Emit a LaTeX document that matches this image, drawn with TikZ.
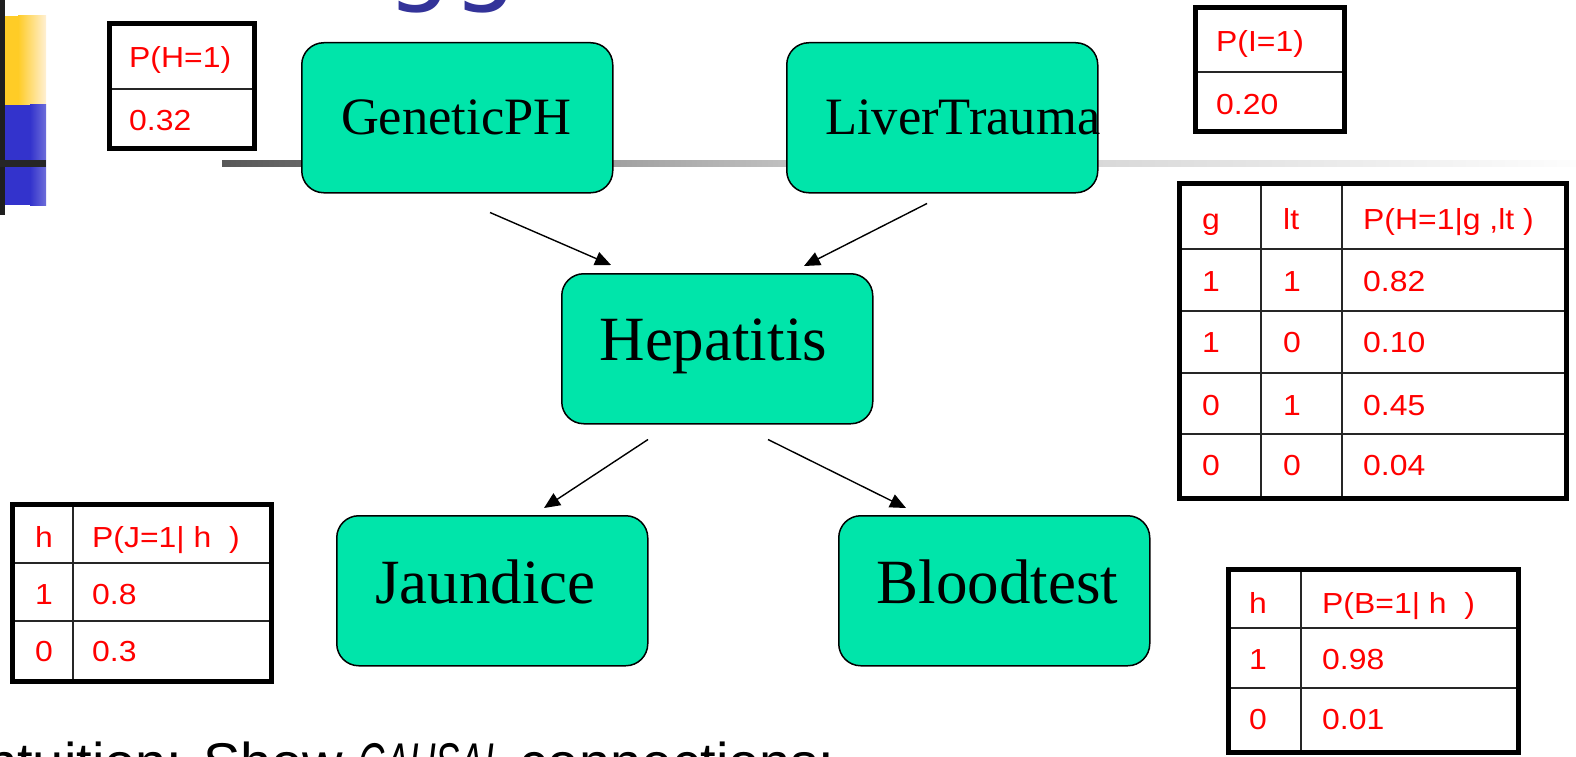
\documentclass[tikz,border=0pt]{standalone}
\usepackage{fontspec}
\setmainfont{Liberation Serif}
\newfontfamily\tabfont[FakeStretch=1.1]{Liberation Sans}
\newfontfamily\bodyfont{Liberation Sans}
\newfontfamily\titlefont{DejaVu Sans}
\usetikzlibrary{arrows.meta,calc}
\definecolor{mint}{RGB}{0,229,170}
\definecolor{titleblue}{RGB}{51,51,153}
\definecolor{barblue}{RGB}{51,51,204}
\definecolor{barblue2}{RGB}{110,110,218}
\definecolor{baryellow}{RGB}{255,204,38}
\definecolor{baryellow2}{RGB}{255,240,212}
\definecolor{tabred}{RGB}{255,0,0}
\definecolor{lineA}{RGB}{88,88,88}
\definecolor{lineB}{RGB}{192,192,192}
\definecolor{lineC}{RGB}{253,253,253}
\tikzset{
  netnode/.style={draw=black, line width=1.5pt, fill=mint, rounded corners=22pt,
    minimum width=311pt, minimum height=150pt, inner sep=0pt, anchor=north west},
  toplabel/.style={font=\fontsize{52.5}{60}\selectfont, text height=36pt, text depth=2pt},
  botlabel/.style={font=\fontsize{63}{72}\selectfont, text height=43pt, text depth=17pt},
  cpt/.style={font=\tabfont\fontsize{29}{34}\selectfont, text=tabred, anchor=base west, inner sep=0pt},
  tabframe/.style={draw=black, line width=5pt},
  tabrule/.style={draw=black!85, line width=2.2pt},
  causal/.style={draw=black, line width=1.4pt, -{Triangle[length=16pt,width=14pt]}},
}
\begin{document}
\begin{tikzpicture}[x=1pt,y=-1pt]
\useasboundingbox (0,0) rectangle (1576,757);
\clip (0,0) rectangle (1576,757);
\fill[white] (0,0) rectangle (1576,757);

% title remnant
\node[anchor=base west, inner sep=0pt, font=\titlefont\fontsize{104}{110}\selectfont, text=titleblue] (ttl) at (386,-8) {gg};

% gray rule
\shade[left color=lineA, right color=lineB] (222,160) rectangle (786,166);
\shade[left color=lineB, right color=lineC] (785,160) rectangle (1576,166);

% left decoration
\fill[baryellow] (5,16) rectangle (19,105);
\shade[left color=baryellow, right color=baryellow2] (18,16) rectangle (46,105);
\fill[barblue] (5,105) rectangle (31,205);
\shade[left color=barblue, right color=barblue2] (30,105) rectangle (46,205);
\fill[black!88] (0,0) rectangle (5,215);
\fill[black!85] (0,160) rectangle (46,167);

% network nodes
\node[netnode] (g) at (301,42) {};
\node[toplabel] (gt) at ($(g.center)+(-1,0)$) {GeneticPH};
\node[netnode] (l) at (786,42) {};
\node[toplabel] (lt) at (l.center) {\makebox[0pt][c]{\hspace{41pt}LiverTrauma}};
\node[netnode] (h) at (561,273) {};
\node[botlabel] (ht) at ($(h.center)+(-4,-1)$) {Hepatitis};
\node[netnode] (j) at (336,515) {};
\node[botlabel] (jt) at ($(j.center)+(-7,0)$) {Jaundice};
\node[netnode] (b) at (838,515) {};
\node[botlabel] (bt) at ($(b.center)+(3,0)$) {Bloodtest};

% connectors
\coordinate (gA) at ($(g.south west)+(189,19)$);
\coordinate (hA) at ($(h.north west)+(50,-8)$);
\coordinate (lA) at ($(l.south west)+(141,10)$);
\coordinate (hB) at ($(h.north west)+(243,-7)$);
\coordinate (hC) at ($(h.south west)+(87,15)$);
\coordinate (jA) at ($(j.north west)+(208,-7)$);
\coordinate (hD) at ($(h.south west)+(207,15)$);
\coordinate (bA) at ($(b.north west)+(68,-7)$);
\draw[causal] (gA) -- (hA);
\draw[causal] (lA) -- (hB);
\draw[causal] (hC) -- (jA);
\draw[causal] (hD) -- (bA);

% P(H=1) table
\draw[tabrule] (109,89) -- (254,89);
\draw[tabframe] (109,24) rectangle (254,148);
\node[cpt] (ph1) at (129,68) {P(H=1)};
\node[cpt] (ph2) at (129,131) {0.32};

% P(I=1) table
\draw[tabrule] (1195,72) -- (1344,72);
\draw[tabframe] (1195,8) rectangle (1344,132);
\node[cpt] (pi1) at (1216,52) {P(I=1)};
\node[cpt] (pi2) at (1216,114) {0.20};

% P(H=1|g,lt) table
\foreach \yy in {249,311,373,434} \draw[tabrule] (1179,\yy) -- (1566,\yy);
\foreach \xx in {1261,1342} \draw[tabrule] (\xx,183) -- (\xx,498);
\draw[tabframe] (1179,183) rectangle (1566,498);
\node[cpt] (c11) at (1202,229) {g};
\node[cpt] (c12) at (1283,229) {lt};
\node[cpt] (c13) at (1363,229) {P(H=1|g ,lt )};
\node[cpt] (c21) at (1202,291) {1};
\node[cpt] (c22) at (1283,291) {1};
\node[cpt] (c23) at (1363,291) {0.82};
\node[cpt] (c31) at (1202,352) {1};
\node[cpt] (c32) at (1283,352) {0};
\node[cpt] (c33) at (1363,352) {0.10};
\node[cpt] (c41) at (1202,415) {0};
\node[cpt] (c42) at (1283,415) {1};
\node[cpt] (c43) at (1363,415) {0.45};
\node[cpt] (c51) at (1202,475) {0};
\node[cpt] (c52) at (1283,475) {0};
\node[cpt] (c53) at (1363,475) {0.04};

% P(J=1|h) table
\foreach \yy in {563,621} \draw[tabrule] (12,\yy) -- (271,\yy);
\draw[tabrule] (73,504) -- (73,681);
\draw[tabframe] (12,504) rectangle (271,681);
\node[cpt] (j11) at (35,547) {h};
\node[cpt] (j12) at (92,547) {P(J=1|\ h\ \ )};
\node[cpt] (j21) at (35,604) {1};
\node[cpt] (j22) at (92,604) {0.8};
\node[cpt] (j31) at (35,661) {0};
\node[cpt] (j32) at (92,661) {0.3};

% P(B=1|h) table
\foreach \yy in {628,688} \draw[tabrule] (1228,\yy) -- (1518,\yy);
\draw[tabrule] (1301,569) -- (1301,752);
\draw[tabframe] (1228,569) rectangle (1518,752);
\node[cpt] (b11) at (1249,613) {h};
\node[cpt] (b12) at (1322,613) {P(B=1|\ h\ \ )};
\node[cpt] (b21) at (1249,669) {1};
\node[cpt] (b22) at (1322,669) {0.98};
\node[cpt] (b31) at (1249,729) {0};
\node[cpt] (b32) at (1322,729) {0.01};

% bottom text
\node[anchor=base west, inner sep=0pt, font=\bodyfont\fontsize{56}{64}\selectfont] (intu) at (-14,782) {ntuition: Show \scalebox{0.65}[1]{\textit{CAUSAL}} connections:};
\end{tikzpicture}
\end{document}
